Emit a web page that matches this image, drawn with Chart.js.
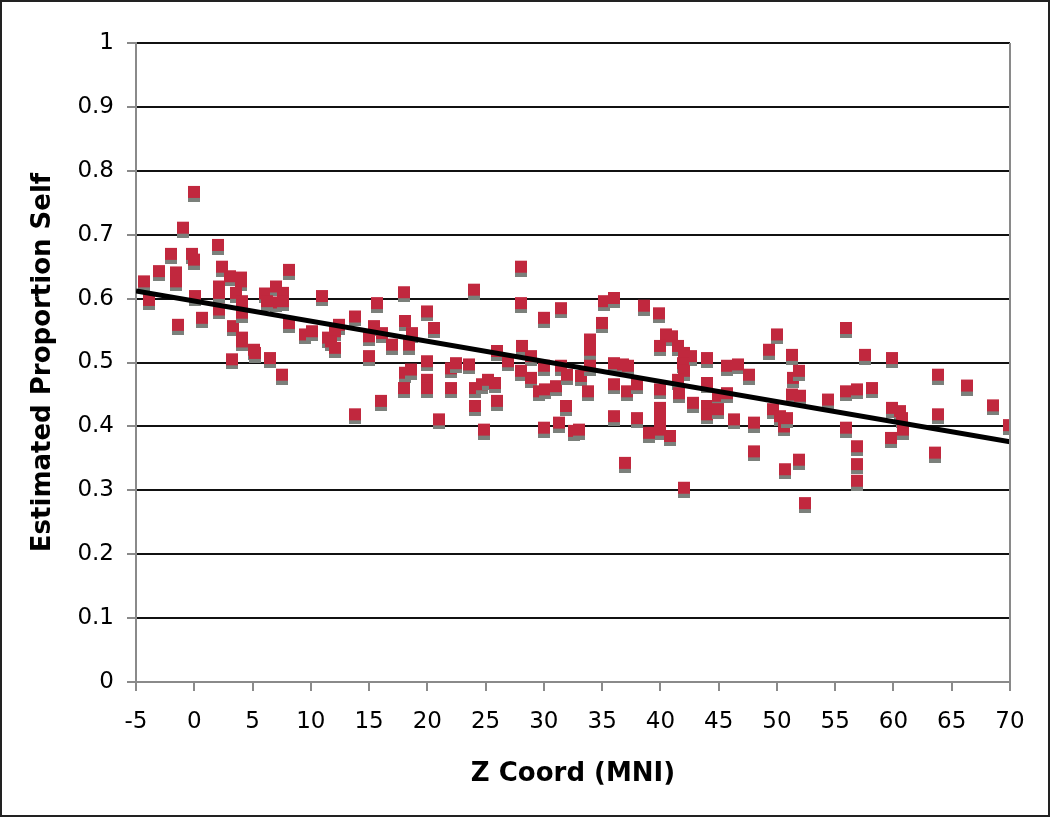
<!DOCTYPE html>
<html>
<head>
<meta charset="utf-8">
<script src="https://cdn.jsdelivr.net/npm/chart.js@4"></script>
<style>
  body { margin: 0; background: #fff; }
  canvas { display: block; }
</style>
</head>
<body>
<canvas id="scatterChart" width="1050" height="817"></canvas>
<script>
// Z coordinate (MNI) of each voxel / peak
const zCoord = [
    0, -1, 2, -2, -0.2, 0, -3, -1.6, -1.6, -4.3,
    2.4, 3.1, 4, 4, 8.1, 2.1, 2.1, 0.1, -3.9, 3.6,
    4.1, 6.1, 7, 7.6, 7, 6.2, 7.6, 11, -1.4, 0.7,
    2.1, 3.3, 4.1, 8.1, 9.5, 10.1, 12.4, 12.1, 4.1, 13.8,
    11.5, 3.2, 4.1, 5.1, 5.2, 6.5, 7.5, 11.7, 12.1, 13.8,
    28, 24, 18, 28, 15.7, 31.5, 30, 20, 18.1, 20.6,
    15.4, 16.1, 18.7, 15, 17, 18.4, 15, 18.1, 18.6, 18,
    20, 20, 20, 22, 22.5, 23.6, 22, 24.1, 24.7, 25.2,
    25.8, 26, 26.9, 28.1, 28.9, 28, 28.9, 29.6, 30.1, 31,
    30, 31.5, 32, 16, 21, 24.1, 26, 24.9, 30, 31.3,
    31.9, 32.6, 35.2, 36, 38.6, 39.9, 35, 34, 40.5, 41,
    50, 34, 33.2, 34, 33.8, 33, 36, 36.8, 37.2, 36,
    37.1, 38, 36, 38, 40, 41.5, 42, 42.6, 41.9, 42,
    41.5, 41.6, 44, 45.7, 46.7, 47.6, 40, 40, 40, 40,
    40, 39, 40.8, 42.8, 44, 44, 44, 44.9, 45.7, 44.9,
    46.3, 48, 48, 37, 42, 49.3, 51.3, 49.7, 50.3, 50.6,
    51.3, 51.4, 50.7, 55.9, 57.6, 59.9, 51.9, 52, 50.9, 54.4,
    55.9, 56.9, 58.2, 55.9, 56.9, 56.9, 56.9, 59.9, 60.6, 60.7,
    60.8, 59.8, 63.8, 63.8, 63.6, 66.3, 68.5, 69.9, 51.9, 52.4
];

// estimated proportion self at each coordinate
const propSelf = [
    0.767, 0.711, 0.684, 0.670, 0.670, 0.661, 0.643, 0.641, 0.627, 0.627,
    0.650, 0.635, 0.633, 0.627, 0.645, 0.619, 0.609, 0.604, 0.598, 0.609,
    0.596, 0.608, 0.619, 0.609, 0.594, 0.596, 0.596, 0.604, 0.559, 0.570,
    0.583, 0.557, 0.578, 0.562, 0.544, 0.549, 0.559, 0.549, 0.539, 0.572,
    0.539, 0.505, 0.533, 0.520, 0.515, 0.507, 0.481, 0.533, 0.523, 0.419,
    0.650, 0.614, 0.610, 0.593, 0.593, 0.585, 0.570, 0.580, 0.565, 0.554,
    0.557, 0.546, 0.546, 0.541, 0.528, 0.528, 0.510, 0.484, 0.489, 0.460,
    0.502, 0.473, 0.460, 0.491, 0.499, 0.497, 0.460, 0.460, 0.466, 0.473,
    0.468, 0.518, 0.502, 0.526, 0.510, 0.487, 0.476, 0.455, 0.458, 0.463,
    0.495, 0.495, 0.481, 0.440, 0.411, 0.432, 0.440, 0.395, 0.398, 0.406,
    0.432, 0.393, 0.596, 0.601, 0.589, 0.577, 0.562, 0.536, 0.544, 0.541,
    0.544, 0.520, 0.479, 0.495, 0.455, 0.395, 0.499, 0.497, 0.495, 0.466,
    0.455, 0.466, 0.416, 0.413, 0.526, 0.526, 0.515, 0.510, 0.499, 0.487,
    0.473, 0.452, 0.507, 0.495, 0.497, 0.481, 0.458, 0.429, 0.419, 0.403,
    0.395, 0.390, 0.385, 0.437, 0.468, 0.432, 0.419, 0.448, 0.452, 0.427,
    0.411, 0.406, 0.361, 0.343, 0.304, 0.520, 0.512, 0.427, 0.416, 0.400,
    0.450, 0.476, 0.333, 0.554, 0.512, 0.507, 0.487, 0.448, 0.413, 0.442,
    0.455, 0.458, 0.460, 0.398, 0.369, 0.341, 0.315, 0.429, 0.424, 0.413,
    0.395, 0.382, 0.481, 0.419, 0.359, 0.464, 0.433, 0.402, 0.348, 0.280
];

// linear trend line end points
const trendX = [-5, 70];
const trendY = [0.612, 0.376];

const xTicks = [-5, 0, 5, 10, 15, 20, 25, 30, 35, 40, 45, 50, 55, 60, 65, 70];

// red square marker with a grey drop shadow underneath
function makeMarker() {
    const c = document.createElement('canvas');
    c.width = 12;
    c.height = 20;
    const g = c.getContext('2d');
    g.fillStyle = '#7b807b';
    g.fillRect(0, 8, 12, 12);
    g.fillStyle = '#c1283e';
    g.fillRect(0, 4, 12, 12);
    return c;
}

// outer frame of the picture and right edge of the plot
const framePlugin = {
    id: 'frame',
    afterDraw(chart) {
        const ctx = chart.ctx;
        const area = chart.chartArea;
        ctx.save();
        ctx.strokeStyle = '#8a8a8a';
        ctx.lineWidth = 2;
        ctx.beginPath();
        ctx.moveTo(area.right, area.top);
        ctx.lineTo(area.right, area.bottom);
        ctx.stroke();
        ctx.strokeStyle = '#222';
        ctx.lineWidth = 2;
        ctx.strokeRect(1, 1, chart.width - 2, chart.height - 2);
        ctx.restore();
    }
};

const points = zCoord.map((z, i) => ({ x: z, y: propSelf[i] }));
const trend = trendX.map((x, i) => ({ x: x, y: trendY[i] }));
const marker = makeMarker();

const ctx = document.getElementById('scatterChart').getContext('2d');

new Chart(ctx, {
    type: 'scatter',
    data: {
        datasets: [{
            type: 'line',
            label: 'Trend',
            data: trend,
            borderColor: '#000',
            borderWidth: 5,
            pointRadius: 0,
            fill: false,
            order: 0
        }, {
            label: 'Estimated Proportion Self',
            data: points,
            pointStyle: marker,
            pointRadius: 6,
            order: 1
        }]
    },
    options: {
        responsive: false,
        animation: false,
        layout: { padding: { left: 0, top: 43, right: 40, bottom: 0 } },
        plugins: {
            legend: { display: false },
            tooltip: { enabled: false }
        },
        scales: {
            x: {
                type: 'linear',
                min: -5,
                max: 70,
                afterBuildTicks: scale => {
                    scale.ticks = xTicks.map(v => ({ value: v }));
                },
                afterFit: scale => { scale.height = 135; },
                grid: {
                    drawOnChartArea: false,
                    tickLength: 9,
                    tickColor: '#8a8a8a',
                    lineWidth: 2
                },
                border: { color: '#8a8a8a', width: 2 },
                ticks: {
                    color: '#000',
                    padding: 17,
                    maxRotation: 0,
                    font: { family: 'DejaVu Sans', size: 23 }
                },
                title: {
                    display: true,
                    text: 'Z Coord (MNI)',
                    color: '#000',
                    padding: { top: 0, bottom: 27 },
                    font: { family: 'DejaVu Sans', size: 26, weight: 'bold' }
                }
            },
            y: {
                min: 0,
                max: 1,
                afterFit: scale => { scale.width = 136; },
                grid: {
                    color: '#111',
                    lineWidth: 2,
                    tickLength: 9,
                    tickColor: '#8a8a8a'
                },
                border: { color: '#8a8a8a', width: 2 },
                ticks: {
                    stepSize: 0.1,
                    color: '#000',
                    padding: 13,
                    font: { family: 'DejaVu Sans', size: 23 },
                    callback: v => Math.round(v * 10) / 10
                },
                title: {
                    display: true,
                    text: 'Estimated Proportion Self',
                    color: '#000',
                    padding: { top: 28, bottom: 0 },
                    font: { family: 'DejaVu Sans', size: 26, weight: 'bold' }
                }
            }
        }
    },
    plugins: [framePlugin]
});
</script>
</body>
</html>
